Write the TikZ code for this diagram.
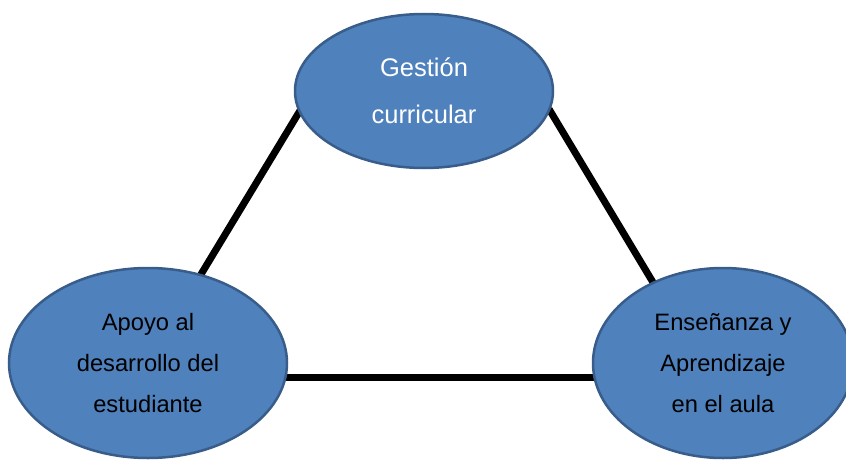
\documentclass[tikz,border=0pt]{standalone}
\usepackage{fontspec}
\setmainfont{Liberation Sans}
\usetikzlibrary{shapes.geometric}
\definecolor{ovalfill}{HTML}{4F81BD}
\definecolor{ovalborder}{HTML}{385D8A}
\begin{document}
\begin{tikzpicture}[x=1pt,y=-1pt,
  oval/.style={ellipse, draw=ovalborder, line width=2.5pt, fill=ovalfill, inner sep=0pt, align=center},
  link/.style={line width=7pt, draw=black},
  linkshadow/.style={line width=7pt, draw=black, opacity=0.18},
  topfont/.style={font={\fontsize{25.5pt}{47pt}\selectfont}, text=white},
  lowfont/.style={font={\fontsize{23.7pt}{41pt}\selectfont}, text=black}]
\useasboundingbox (0,0) rectangle (846,460);
\clip (0,0) rectangle (846,460);
% connector end points
\coordinate (la) at (200,276);
\coordinate (lb) at (301,109);
\coordinate (ra) at (549,109);
\coordinate (rb) at (654,284);
\coordinate (ba) at (280,377);
\coordinate (bb) at (600,377);
% shadows
\begin{scope}[yshift=-3pt, xshift=1pt]
  \draw[linkshadow] (la) -- (lb);
  \draw[linkshadow] (ra) -- (rb);
  \draw[linkshadow] (ba) -- (bb);
\end{scope}
% connectors
\draw[link] (la) -- (lb);
\draw[link] (ra) -- (rb);
\draw[link] (ba) -- (bb);
% ovals
\node[oval, topfont, minimum width=258pt, minimum height=154pt] (gestion) at (424,91) {Gestión\\curricular};
\node[oval, lowfont, minimum width=278pt, minimum height=190pt] (apoyo) at (148,363) {Apoyo al\\desarrollo del\\estudiante};
\node[oval, lowfont, minimum width=260pt, minimum height=190pt] (ensenanza) at (723,363) {Enseñanza y\\Aprendizaje\\en el aula};
\end{tikzpicture}
\end{document}
